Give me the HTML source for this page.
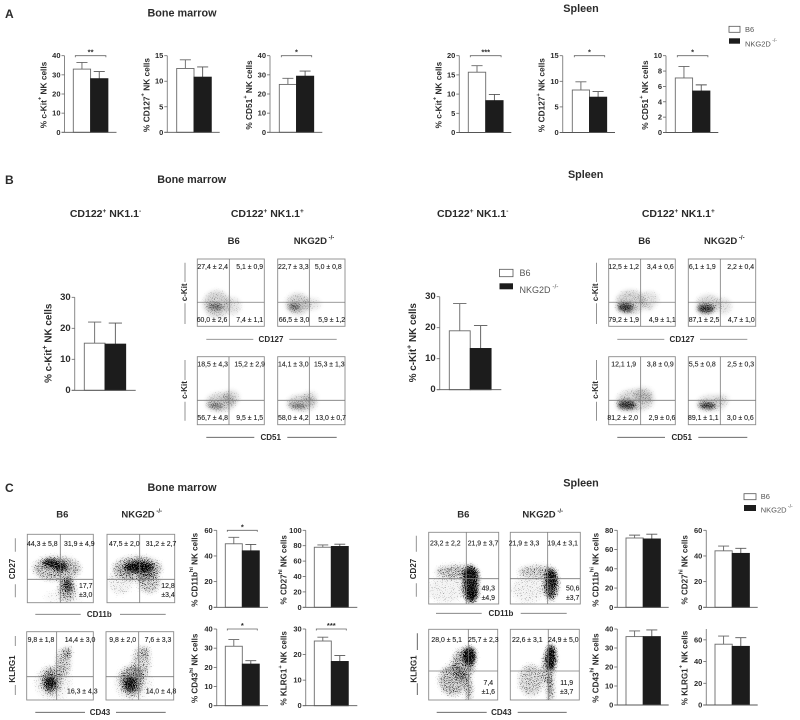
<!DOCTYPE html>
<html lang="en">
<head>
<meta charset="utf-8">
<title>NK cell phenotype figure</title>
<style>
html,body{margin:0;padding:0;background:#fff;width:800px;height:720px;overflow:hidden}
svg{display:block;filter:blur(.3px);font-family:"Liberation Sans",sans-serif}
.title{font-size:10.8px;font-weight:bold;fill:#2b2b2b;text-anchor:middle;dominant-baseline:central}
.panel-letter{font-size:12px;font-weight:bold;fill:#2b2b2b;dominant-baseline:central}
.sub{font-size:10.5px;font-weight:bold;fill:#2b2b2b;text-anchor:middle;dominant-baseline:central}
.geno{font-size:9.5px;font-weight:bold;fill:#2b2b2b;text-anchor:middle;dominant-baseline:central}
.leg{fill:#555;dominant-baseline:central}
.marker{font-size:8px;font-weight:bold;fill:#2b2b2b;text-anchor:middle;dominant-baseline:central}
</style>
</head>
<body>
<svg id="figure" width="800" height="720" viewBox="0 0 800 720" xmlns="http://www.w3.org/2000/svg">
<defs>
<filter id="grain-soft" x="-40%" y="-40%" width="180%" height="180%" color-interpolation-filters="sRGB">
<feGaussianBlur in="SourceAlpha" stdDeviation="2" result="d"/>
<feComponentTransfer in="d" result="g"><feFuncA type="gamma" amplitude="1" exponent="0.75"/></feComponentTransfer>
<feTurbulence type="fractalNoise" baseFrequency="1.1" numOctaves="1" seed="7" result="t"/>
<feColorMatrix in="t" type="matrix" values="0 0 0 0 0  0 0 0 0 0  0 0 0 0 0  2.2 0 0 0 -0.6" result="n"/>
<feComposite in="g" in2="n" operator="arithmetic" k1="0" k2="1" k3="1" k4="-1" result="s"/>
<feComponentTransfer in="s" result="dots"><feFuncA type="linear" slope="1.1"/></feComponentTransfer>
<feComponentTransfer in="d" result="haze"><feFuncA type="linear" slope="0.5"/></feComponentTransfer>
<feMerge><feMergeNode in="haze"/><feMergeNode in="dots"/></feMerge>
</filter>
<filter id="grain-hard" x="-40%" y="-40%" width="180%" height="180%" color-interpolation-filters="sRGB">
<feGaussianBlur in="SourceAlpha" stdDeviation="2" result="d"/>
<feComponentTransfer in="d" result="g"><feFuncA type="gamma" amplitude="1" exponent="0.65"/></feComponentTransfer>
<feTurbulence type="fractalNoise" baseFrequency="1.1" numOctaves="1" seed="11" result="t"/>
<feColorMatrix in="t" type="matrix" values="0 0 0 0 0  0 0 0 0 0  0 0 0 0 0  2.2 0 0 0 -0.6" result="n"/>
<feComposite in="g" in2="n" operator="arithmetic" k1="0" k2="1" k3="1" k4="-1" result="s"/>
<feComponentTransfer in="s" result="dots"><feFuncA type="linear" slope="2.2"/></feComponentTransfer>
<feComponentTransfer in="d" result="haze"><feFuncA type="linear" slope="0.45"/></feComponentTransfer>
<feMerge><feMergeNode in="haze"/><feMergeNode in="dots"/></feMerge>
</filter>
</defs>
<rect width="800" height="720" fill="#fff"/>

<text class="panel-letter" x="5" y="14">A</text>
<text class="panel-letter" x="5" y="180">B</text>
<text class="panel-letter" x="5" y="488">C</text>

<text class="title" x="182" y="13.7">Bone marrow</text>
<text class="title" x="581" y="9">Spleen</text>
<text class="title" x="191.7" y="180">Bone marrow</text>
<text class="title" x="585.7" y="175">Spleen</text>
<text class="title" x="182" y="488">Bone marrow</text>
<text class="title" x="581" y="483.3">Spleen</text>

<text class="sub" x="105.5" y="214">CD122<tspan dy="-3" font-size="6.5">+</tspan><tspan dy="3"> NK1.1</tspan><tspan dy="-3" font-size="6.5">-</tspan></text>
<text class="sub" x="267.3" y="214">CD122<tspan dy="-3" font-size="6.5">+</tspan><tspan dy="3"> NK1.1</tspan><tspan dy="-3" font-size="6.5">+</tspan></text>
<text class="sub" x="472.7" y="214">CD122<tspan dy="-3" font-size="6.5">+</tspan><tspan dy="3"> NK1.1</tspan><tspan dy="-3" font-size="6.5">-</tspan></text>
<text class="sub" x="678.3" y="214">CD122<tspan dy="-3" font-size="6.5">+</tspan><tspan dy="3"> NK1.1</tspan><tspan dy="-3" font-size="6.5">+</tspan></text>

<text class="geno" x="233.7" y="241.7">B6</text>
<text class="geno" x="314" y="241.7">NKG2D<tspan dy="-3" font-size="6"> -/-</tspan></text>
<text class="geno" x="644.3" y="241.7">B6</text>
<text class="geno" x="724.3" y="241.7">NKG2D<tspan dy="-3" font-size="6"> -/-</tspan></text>
<text class="geno" x="62.3" y="515">B6</text>
<text class="geno" x="141.7" y="515">NKG2D<tspan dy="-3" font-size="6"> -/-</tspan></text>
<text class="geno" x="463.3" y="515">B6</text>
<text class="geno" x="542.7" y="515">NKG2D<tspan dy="-3" font-size="6"> -/-</tspan></text>

<g>
<rect x="729" y="26.3" width="11" height="6" fill="#fff" stroke="#555" stroke-width=".8"/>
<rect x="729" y="38.3" width="11" height="5.4" fill="#1c1c1c"/>
<text class="leg" x="745" y="29.7" font-size="7.5">B6</text>
<text class="leg" x="745" y="44" font-size="7.5">NKG2D<tspan dy="-3" font-size="5"> -/-</tspan></text>
</g>
<g>
<rect x="499.5" y="269.3" width="13.5" height="7.4" fill="#fff" stroke="#555" stroke-width=".8"/>
<rect x="499.5" y="283.3" width="13.5" height="6" fill="#1c1c1c"/>
<text class="leg" x="519.5" y="273" font-size="9">B6</text>
<text class="leg" x="519.5" y="290" font-size="9">NKG2D<tspan dy="-3.5" font-size="6.5"> -/-</tspan></text>
</g>
<g>
<rect x="744" y="493.7" width="12" height="6" fill="#fff" stroke="#555" stroke-width=".8"/>
<rect x="744" y="505" width="12" height="6" fill="#1c1c1c"/>
<text class="leg" x="760.7" y="496.7" font-size="7.5">B6</text>
<text class="leg" x="760.7" y="510" font-size="7.5">NKG2D<tspan dy="-3" font-size="5"> -/-</tspan></text>
</g>

<g id="bars"></g>
<g id="facs"></g>
<g id="markers"></g>
</svg>

<script>
// ---------- Bar chart data (one entry per chart) ----------
const barChartIds = ['a-bm-ckit','a-bm-cd127','a-bm-cd51','a-sp-ckit','a-sp-cd127','a-sp-cd51','b-bm-ckit','b-sp-ckit','c-bm-cd11b','c-bm-cd27','c-bm-cd43','c-bm-klrg1','c-sp-cd11b','c-sp-cd27','c-sp-cd43','c-sp-klrg1'];
const barSeries = ['b6','nkg2d'];
const meanB6   = [33,12.5,25,15.7,8.3,7.1,15.2,19,49.5,78,31,25.3,72,44,36,56];
const meanKO   = [28,10.8,29.3,8.3,6.9,5.4,14.9,13.3,44,79,21.7,17.3,71,42,36,54];
const errTopB6 = [36.5,14.2,28.2,17.4,9.9,8.6,22,27.8,54.5,81,34.5,26.8,75,47.7,39,63.5];
const errTopKO = [31.7,12.8,32,9.9,8,6.2,21.7,20.7,49,82,23.5,19.6,76,46,39.5,62];
const axisMax  = [40,15,40,20,15,10,30,30,60,100,40,30,80,60,40,70];
const tickValues = [[0,10,20,30,40],[0,5,10,15],[0,10,20,30,40],[0,5,10,15,20],[0,5,10,15],[0,2,4,6,8,10],[0,10,20,30],[0,10,20,30],[0,20,40,60],[0,20,40,60,80,100],[0,10,20,30,40],[0,10,20,30],[0,20,40,60,80],[0,20,40,60],[0,10,20,30,40],[0,20,40,60]];
const significance = ['**','','*','***','*','*','','','*','','*','***','','','',''];
const yTitles = ['% c-Kit^+^ NK cells','% CD127^+^ NK cells','% CD51^+^ NK cells','% c-Kit^+^ NK cells','% CD127^+^ NK cells','% CD51^+^ NK cells','% c-Kit^+^ NK cells','% c-Kit^+^ NK cells','% CD11b^hi^ NK cells','% CD27^hi^ NK cells','% CD43^hi^ NK cells','% KLRG1^+^ NK cells','% CD11b^hi^ NK cells','% CD27^hi^ NK cells','% CD43^hi^ NK cells','% KLRG1^+^ NK cells'];

// ---------- Flow plot data ----------
const facsIds = ['b-bm-b6-cd127','b-bm-ko-cd127','b-bm-b6-cd51','b-bm-ko-cd51','b-sp-b6-cd127','b-sp-ko-cd127','b-sp-b6-cd51','b-sp-ko-cd51','c-bm-b6-cd11b','c-bm-ko-cd11b','c-bm-b6-cd43','c-bm-ko-cd43','c-sp-b6-cd11b','c-sp-ko-cd11b','c-sp-b6-cd43','c-sp-ko-cd43'];
const facsGateX = [47.8,47,47.3,47,48,47.5,48,47.5,50,48.3,45,48.3,53.7,53.4,57.4,55];
const facsGateY = [35.7,35.7,35.9,35.9,35.7,35.7,35.9,35.9,34.2,34.2,34.1,34.1,35.3,35.3,41,41];
const facsPrinted = [
 ['27,4 ± 2,4','5,1 ± 0,9','60,0 ± 2,6','7,4 ± 1,1'],
 ['22,7 ± 3,3','5,0 ± 0,8','66,5 ± 3,0','5,9 ± 1,2'],
 ['18,5 ± 4,3','15,2 ± 2,9','56,7 ± 4,8','9,5 ± 1,5'],
 ['14,1 ± 3,0','15,3 ± 1,3','58,0 ± 4,2','13,0 ± 0,7'],
 ['12,5 ± 1,2','3,4 ± 0,6','79,2 ± 1,9','4,9 ± 1,1'],
 ['6,1 ± 1,9','2,2 ± 0,4','87,1 ± 2,5','4,7 ± 1,0'],
 ['12,1   1,9','3,8 ± 0,9','81,2 ± 2,0','2,9 ± 0,6'],
 ['5,5 ± 0,8','2,5 ± 0,3','89,1 ± 1,1','3,0 ± 0,6'],
 ['44,3 ± 5,8','31,9 ± 4,9','17,7','±3,0'],
 ['47,5 ± 2,0','31,2 ± 2,7','12,8','±3,4'],
 ['9,8 ± 1,8','14,4 ± 3,0','16,3 ± 4,3'],
 ['9,8 ± 2,0','7,6 ± 3,3','14,0 ± 4,8'],
 ['23,2 ± 2,2','21,9 ± 3,7','49,3','±4,9'],
 ['21,9 ± 3,3','19,4 ± 3,1','50,6','±3,7'],
 ['28,0 ± 5,1','25,7 ± 2,3','7,4','±1,6'],
 ['22,6 ± 3,1','24,9 ± 5,0','11,9','±3,7']
];
// Density clouds per plot: [marker X, marker Y, spread X, spread Y, density]
const facsClouds = [
 [[29,33,20,20,.3],[27,29,11,5,.7],[53,30,12,13,.2]],
 [[30,33,18,16,.3],[25,29,9,5,.7],[50,33,14,9,.17]],
 [[35,33,22,14,.3],[27,28,12,4,.65],[50,40,13,11,.24]],
 [[36,32,22,12,.3],[30,28,14,4,.6],[48,40,11,9,.2]],
 [[33,36,22,18,.3],[25,28,12,7,1],[60,40,15,12,.2],[60,28,7,4,.22]],
 [[30,35,18,12,.25],[26,26,13,7,1],[52,30,12,12,.2]],
 [[40,36,28,16,.28],[27,29,14,7,1],[52,44,15,11,.22]],
 [[35,32,22,12,.22],[28,28,13,5,1],[50,38,11,7,.15]],
 [[45,50,36,18,.3],[35,58,11,6,.85],[50,53,11,7,.85],[61,26,8,10,.6],[60,18,13,16,.3],[55,8,30,10,.06]],
 [[45,50,36,18,.32],[47,52,22,8,.95],[62,30,16,16,.28],[20,30,18,18,.1]],
 [[37,28,16,20,.35],[35,25,8,10,.85],[55,55,11,20,.28],[62,70,5,8,.38],[40,25,28,26,.08]],
 [[38,28,18,22,.35],[36,24,9,11,.85],[52,55,13,23,.24],[58,70,7,9,.22],[40,25,28,26,.08]],
 [[40,45,30,9,.32],[60,28,11,26,.8],[60,40,11,11,.8],[25,20,26,18,.1],[62,15,8,12,.85]],
 [[38,45,26,9,.28],[58,28,10,22,.7],[60,35,7,11,.8],[25,20,23,18,.1]],
 [[35,28,20,22,.32],[59,62,9,13,1],[50,50,16,23,.36],[58,15,5,17,.38]],
 [[30,28,18,22,.26],[59,60,7,18,1],[55,45,9,23,.36],[58,15,5,17,.42]]
];

// ---------- Layout only (pixels) ----------
const barFrames = [
 [64.5,132.3,55.7,73.3,17.3,116.5],[167.3,132.3,55.7,176.7,17.3,219.7],[270,132.3,55.7,279.3,17.2,322.3],
 [459.3,132.5,55.7,468.3,17.4,511.3],[562.7,132.5,55.7,572.3,17.2,615],[666,132.5,55.7,675.3,17.3,718.3],
 [74.7,390.3,297.3,84.3,20.7,135.7],[439.7,389.7,296.7,449.3,20.9,501.3],
 [216.7,607.3,530.3,225.3,17,268],[305.7,607.3,530.3,314.3,17,357.3],[216.7,705.7,629,225.3,17,268],[305.7,705.7,629,314.3,17,357.3],
 [617.3,607.3,530.3,626,17.2,668.7],[706.3,607.3,530.3,715,17.2,757.7],[617.3,705,629,626,17.2,668.7],[706.3,705,629,715,17.2,757.7]
];
const barFonts = [[7.5,8.3,21],[7.5,8.3,21],[7.5,8.3,21],[7.5,8.3,21],[7.5,8.3,21],[7.5,8.3,21],[9.5,9.9,26],[9.5,9.9,26.5],[7.5,8.1,22],[7.5,8.1,22],[7.5,8.1,22],[7.5,8.1,22],[7.5,8.1,22],[7.5,8.1,22],[7.5,8.1,22],[7.5,8.1,22]];
const facsFrames = [
 [197.3,264.3,259,326.3],[277.7,345,259,326.3],[197.3,264.3,356.7,424.7],[277.7,345,356.7,424.7],
 [608.7,675.3,259,326.3],[688.3,755.7,259,326.3],[608.7,675.3,356.7,424.7],[688.3,755.7,356.7,424.7],
 [27.3,93.3,534.3,602.7],[107,174.7,534.3,602.7],[26.7,93.3,631.7,700],[106,173.7,631.7,700],
 [428.7,498.7,532.3,604],[510.3,580.3,532.3,604],[428.7,497.7,629.3,700],[510.3,579.3,629.3,700]
];
const facsLabelSpots = [
 [[212.7,267.7],[249.7,267.7],[212,320.7],[249.7,320.7]],
 [[293.3,267.7],[328.3,267.7],[294,320.7],[331.7,320.7]],
 [[212.7,365],[249.7,365],[212.7,418.3],[249.7,418.3]],
 [[293.3,365],[329.3,365],[293.3,418.3],[330.7,418.3]],
 [[623.7,267.7],[660.3,267.7],[623.7,320.7],[662.3,320.7]],
 [[702.3,267.7],[740.7,267.7],[704,320.7],[741.3,320.7]],
 [[623.7,365],[660.3,365],[622.7,418.3],[662,418.3]],
 [[702.3,365],[740.7,365],[703.3,418.3],[740.3,418.3]],
 [[42.3,544.3],[79.3,544.3],[85.7,586.7],[85.7,595.7]],
 [[124.3,544.3],[161,544.3],[168,586.7],[168,595.7]],
 [[41,640.3],[80,640.3],[82.3,692]],
 [[122.7,640.3],[158,640.3],[161,692]],
 [[445.3,544],[483,544],[488.3,589],[488.3,598.3]],
 [[524,544],[562.7,544],[572.7,589],[572.7,598.3]],
 [[446.7,640.7],[483.3,640.7],[488.3,683.3],[488.3,692.3]],
 [[527.3,640.7],[563.3,640.7],[566.7,683.3],[566.7,692.3]]
];
const horizontalMarkers = [
 ['CD127',271,339.3,206.3,253.3,289.3,336.7,'#888'],['CD51',270.7,437.3,206.3,254.3,287.3,336.7,'#555'],
 ['CD127',682,339.3,617.3,664.3,700,747.3,'#888'],['CD51',681.7,437.3,617.3,665,698.3,747.3,'#555'],
 ['CD11b',99.3,614.3,35.3,80.7,120,165.7,'#777'],['CD43',100,712.3,35.3,85,116,165.7,'#555'],
 ['CD11b',501,613.3,436,481.7,520.7,566.7,'#777'],['CD43',501.3,712.3,436.7,486.7,517.7,566.7,'#555']
];
const verticalMarkers = [
 ['c-Kit',184.3,292.3,185,262.7,282,303.3,324,'#888'],['c-Kit',184.3,390,185,360,380,401.7,420.7,'#888'],
 ['c-Kit',595.3,292.3,596.5,262.7,282,303.3,324,'#888'],['c-Kit',595.3,390,596.5,360,380,401.7,420.7,'#888'],
 ['CD27',12.3,569,15.3,538.3,551.7,584.3,597.3,'#888'],['KLRG1',12.3,669,15.3,636,646,685,695,'#888'],
 ['CD27',413.3,569,416.3,535.7,551.7,583.3,596.7,'#888'],['KLRG1',414,669,417.3,633.3,650,683.3,695,'#555']
];

// ---------- Drawing ----------
const NS = 'http://www.w3.org/2000/svg';
function make(parent, tag, attrs) {
  const el = document.createElementNS(NS, tag);
  for (const k in attrs) el.setAttribute(k, attrs[k]);
  parent.appendChild(el);
  return el;
}
function richText(el, str, size) {
  const parts = str.split('^');
  parts.forEach(function (p, i) {
    const t = document.createElementNS(NS, 'tspan');
    t.textContent = p;
    if (i % 2 === 1) {
      t.setAttribute('dy', -size * 0.35);
      t.setAttribute('font-size', size * 0.7);
    } else if (i > 0) {
      t.setAttribute('dy', size * 0.35);
    }
    el.appendChild(t);
  });
}
const barsRoot = document.getElementById('bars');
const facsRoot = document.getElementById('facs');
const markersRoot = document.getElementById('markers');

barChartIds.forEach(function (id, i) {
  const f = barFrames[i];
  const axisX = f[0], y0 = f[1], yTop = f[2], barLeft = f[3], barW = f[4], axisEnd = f[5];
  const yScale = function (v) { return y0 - v / axisMax[i] * (y0 - yTop); };
  const xScale = function (s) { return barLeft + s * barW; };
  const fonts = barFonts[i];
  const chart = make(barsRoot, 'g', {});
  
  

  barSeries.forEach(function (series, s) {
    const mean = s === 0 ? meanB6[i] : meanKO[i];
    const top = s === 0 ? errTopB6[i] : errTopKO[i];
    const cx = xScale(s) + barW / 2;
    const err = make(chart, 'path', {
      d: 'M' + cx + ' ' + yScale(mean) + 'V' + yScale(top) + 'M' + (cx - barW * 0.32) + ' ' + yScale(top) + 'H' + (cx + barW * 0.32),
      stroke: s === 0 ? '#666' : '#555', 'stroke-width': 0.9, fill: 'none'
    });
    
    
    const bar = make(chart, 'rect', {
      x: xScale(s), y: yScale(mean), width: barW, height: y0 - yScale(mean),
      fill: s === 0 ? '#fff' : '#1c1c1c', stroke: s === 0 ? '#6a6a6a' : '#1c1c1c', 'stroke-width': 0.9
    });
    
    
  });

  const yAxis = make(chart, 'line', { x1: axisX, x2: axisX, y1: yScale(axisMax[i]), y2: y0, stroke: '#888', 'stroke-width': 1 });
  
  
  const xAxis = make(chart, 'line', { x1: axisX - 3, x2: axisEnd, y1: y0, y2: y0, stroke: '#555', 'stroke-width': 0.9 });
  
  

  tickValues[i].forEach(function (v) {
    const tick = make(chart, 'line', { x1: axisX - 3, x2: axisX, y1: yScale(v), y2: yScale(v), stroke: '#666', 'stroke-width': 0.8 });
    
    
    const lab = make(chart, 'text', {
      x: axisX - 4, y: yScale(v), 'text-anchor': 'end', 'dominant-baseline': 'central',
      'font-size': fonts[0], 'font-weight': 'bold', fill: '#2b2b2b'
    });
    lab.textContent = v;
    
    
  });

  const midY = (y0 + yTop) / 2 + (i >= 6 && i < 8 ? -0.5 : 1);
  const tx = axisX - fonts[2];
  const title = make(chart, 'text', {
    transform: 'translate(' + tx + ' ' + midY + ') rotate(-90)', 'text-anchor': 'middle', 'dominant-baseline': 'central',
    'font-size': fonts[1], 'font-weight': 'bold', fill: '#2b2b2b'
  });
  richText(title, yTitles[i], fonts[1]);
  
  

  if (significance[i]) {
    const a = xScale(0) + 2, b = xScale(2) - 2, y = yScale(axisMax[i]);
    const bracket = make(chart, 'path', { d: 'M' + a + ' ' + (y + 1.5) + 'V' + y + 'H' + b + 'V' + (y + 1.5), fill: 'none', stroke: '#666', 'stroke-width': 0.8 });
    
    
    const star = make(chart, 'text', { x: (a + b) / 2, y: y - 1, 'text-anchor': 'middle', 'font-size': 7.5, 'font-weight': 'bold', fill: '#2b2b2b' });
    star.textContent = significance[i];
    
    
  }
});

facsIds.forEach(function (id, i) {
  const f = facsFrames[i];
  const left = f[0], right = f[1], top = f[2], bottom = f[3];
  const xScale = function (v) { return left + v / 100 * (right - left); };
  const yScale = function (v) { return bottom - v / 100 * (bottom - top); };
  const plot = make(facsRoot, 'g', {});
  
  

  const clip = make(plot, 'clipPath', { id: 'clip-' + i });
  make(clip, 'rect', { x: left, y: top, width: right - left, height: bottom - top });
  const clipG = make(plot, 'g', { 'clip-path': 'url(#clip-' + i + ')' });
  const cloud = make(clipG, 'g', { filter: i < 8 ? 'url(#grain-soft)' : 'url(#grain-hard)' });
  
  
  facsClouds[i].forEach(function (c) {
    make(cloud, 'ellipse', {
      cx: xScale(c[0]), cy: yScale(c[1]),
      rx: c[2] / 100 * (right - left), ry: c[3] / 100 * (bottom - top),
      fill: '#000', 'fill-opacity': c[4]
    });
  });

  const frame = make(plot, 'rect', { x: left, y: top, width: right - left, height: bottom - top, fill: 'none', stroke: '#8a8a8a', 'stroke-width': 0.9 });
  
  
  const gateV = make(plot, 'line', { x1: xScale(facsGateX[i]), x2: xScale(facsGateX[i]), y1: top, y2: bottom, stroke: '#7a7a7a', 'stroke-width': 0.8 });
  
  
  const gateH = make(plot, 'line', { x1: left, x2: right, y1: yScale(facsGateY[i]), y2: yScale(facsGateY[i]), stroke: '#7a7a7a', 'stroke-width': 0.8 });
  
  

  facsPrinted[i].forEach(function (str, k) {
    const spot = facsLabelSpots[i][k];
    const t = make(plot, 'text', { x: spot[0], y: spot[1], 'text-anchor': 'middle', 'dominant-baseline': 'central', 'font-size': 6.9, fill: '#1f1f1f', stroke: '#1f1f1f', 'stroke-width': 0.12 });
    t.textContent = str;
    
    
  });
});

horizontalMarkers.forEach(function (m) {
  const line = make(markersRoot, 'path', { d: 'M' + m[3] + ' ' + m[2] + 'H' + m[4] + 'M' + m[5] + ' ' + m[2] + 'H' + m[6], stroke: m[7], 'stroke-width': 0.9, fill: 'none' });
  
  
  const t = make(markersRoot, 'text', { x: m[1], y: m[2], class: 'marker' });
  t.textContent = m[0];
  
  
});
verticalMarkers.forEach(function (m) {
  const line = make(markersRoot, 'path', { d: 'M' + m[3] + ' ' + m[4] + 'V' + m[5] + 'M' + m[3] + ' ' + m[6] + 'V' + m[7], stroke: m[8], 'stroke-width': 0.9, fill: 'none' });
  
  
  const t = make(markersRoot, 'text', { transform: 'translate(' + m[1] + ' ' + m[2] + ') rotate(-90)', class: 'marker' });
  t.textContent = m[0];
  
  
});
</script>
</body>
</html>
